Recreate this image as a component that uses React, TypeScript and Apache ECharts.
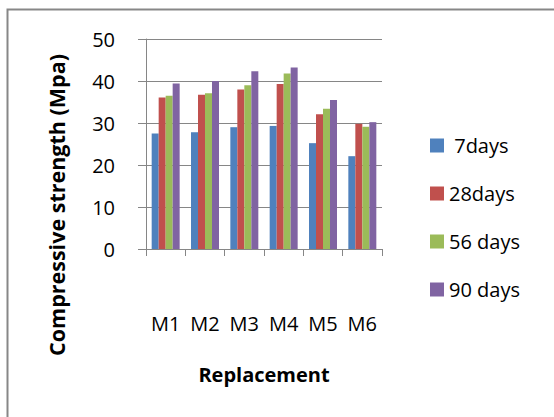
import React, { useEffect, useRef } from "react";
import * as echarts from "echarts";

const categories = ["M1", "M2", "M3", "M4", "M5", "M6"];
const seriesNames = [" 7days", "28days", "56 days", "90 days"];
const days7 = [27.5, 27.8, 29.0, 29.3, 25.2, 22.1];
const days28 = [36.1, 36.7, 38.0, 39.3, 32.1, 29.8];
const days56 = [36.5, 37.1, 39.0, 41.8, 33.4, 29.1];
const days90 = [39.4, 40.0, 42.3, 43.2, 35.5, 30.2];
const colors = ["#4F81BD", "#C0504D", "#9BBB59", "#8064A2"];
const yTitle = "Compressive strength (Mpa)";
const xTitle = "Replacement";

const FONT = "'Open Sans', Lato, sans-serif";

export default function App() {
  const ref = useRef<HTMLDivElement>(null);
  useEffect(() => {
    if (!ref.current) return;
    const chart = echarts.init(ref.current, undefined, { renderer: "svg" });
    const values = [days7, days28, days56, days90];
    chart.setOption({
      animation: false,
      textStyle: { fontFamily: FONT },
      grid: { left: 146, top: 39, width: 236, height: 210, containLabel: false },
      legend: {
        orient: "vertical",
        left: 425,
        top: 130,
        itemWidth: 14,
        itemHeight: 14,
        itemGap: 27,
        icon: "rect",
        textStyle: { fontSize: 20, color: "#000", lineHeight: 21, fontFamily: FONT },
        data: seriesNames,
      },
      xAxis: {
        type: "category",
        data: categories,
        boundaryGap: true,
        axisLine: { lineStyle: { color: "#868686", width: 1 } },
        axisTick: { show: true, length: 7, alignWithLabel: false, lineStyle: { color: "#868686" } },
        axisLabel: { margin: 64, fontSize: 20, color: "#000", fontFamily: FONT },
        name: xTitle,
        nameLocation: "middle",
        nameGap: 115,
        nameTextStyle: { fontSize: 20, fontWeight: "bold", color: "#000", fontFamily: FONT },
      },
      yAxis: {
        type: "value",
        min: 0,
        max: 50,
        interval: 10,
        axisLine: { show: true, lineStyle: { color: "#868686", width: 1 } },
        axisTick: { show: true, length: 8, lineStyle: { color: "#868686" } },
        axisLabel: { margin: 31, fontSize: 20, color: "#000", fontFamily: FONT },
        splitLine: { show: true, lineStyle: { color: "#868686", width: 1 } },
      },
      series: seriesNames.map((name, i) => ({
        name,
        type: "bar",
        data: values[i],
        barWidth: 7,
        barGap: "0%",
        itemStyle: { color: colors[i] },
      })),
      graphic: [
        {
          type: "rect",
          shape: { x: 7.5, y: 9.5, width: 700, height: 600 },
          style: { fill: "none", stroke: "#878787", lineWidth: 2 },
          silent: true,
        },
        {
          type: "text",
          x: 56,
          y: 205,
          rotation: Math.PI / 2,
          style: {
            text: yTitle,
            fontSize: 21.5,
            fontWeight: "bold",
            fill: "#000",
            fontFamily: FONT,
            align: "center",
            verticalAlign: "middle",
          },
        },
      ],
    });
    return () => chart.dispose();
  }, []);
  return (
    <div
      ref={ref}
      style={{ position: "absolute", left: 0, top: 0, width: 554, height: 417 }}
    />
  );
}
